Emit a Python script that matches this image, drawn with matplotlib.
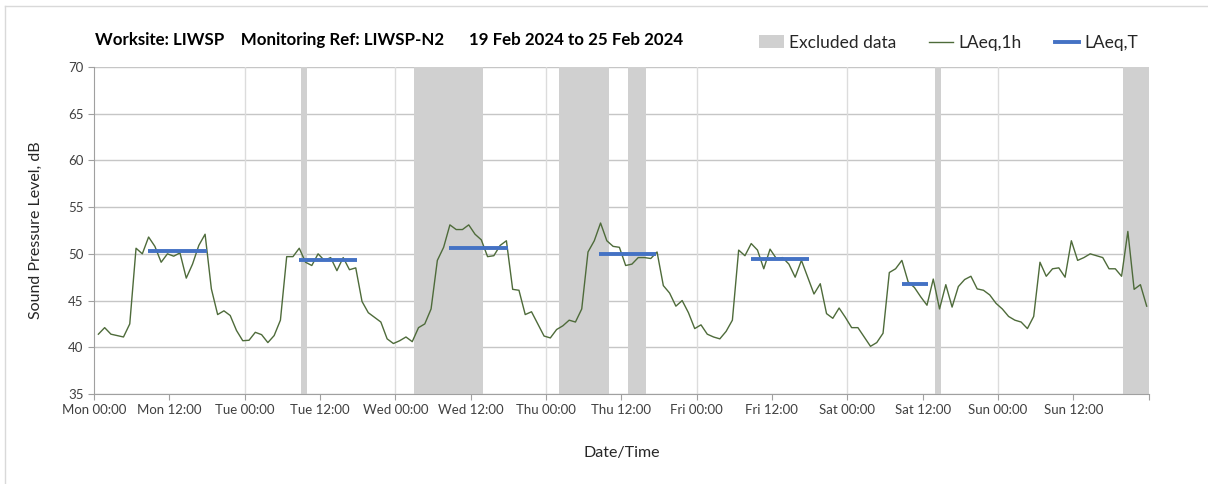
import numpy as np
import matplotlib.pyplot as plt
from matplotlib.patches import Patch
from matplotlib.lines import Line2D

plt.rcParams['font.family'] = ['Lato', 'DejaVu Sans']

# hourly LAeq,1h values, Mon 00:00 -> Sun 23:00
laeq_1h = [
    41.4, 42.1, 41.4, 41.25, 41.1, 42.5, 50.6, 50.0, 51.8, 50.8, 49.1, 50.0,
    49.75, 50.1, 47.4, 48.9, 50.9, 52.1, 46.25, 43.5, 43.9, 43.4, 41.8, 40.7,
    40.75, 41.6, 41.35, 40.5, 41.25, 42.9, 49.7, 49.7, 50.6, 49.1, 48.75, 50.0,
    49.3, 49.6, 48.2, 49.6, 48.3, 48.5, 44.9, 43.7, 43.2, 42.7, 40.9, 40.4,
    40.7, 41.1, 40.6, 42.1, 42.5, 44.1, 49.3, 50.7, 53.1, 52.6, 52.6, 53.1,
    52.1, 51.5, 49.7, 49.8, 50.9, 51.4, 46.2, 46.1, 43.5, 43.8, 42.5, 41.2,
    41.0, 41.9, 42.3, 42.9, 42.7, 44.1, 50.2, 51.4, 53.3, 51.4, 50.8, 50.7,
    48.75, 48.9, 49.6, 49.6, 49.5, 50.2, 46.6, 45.8, 44.4, 45.0, 43.7, 42.0,
    42.4, 41.4, 41.1, 40.9, 41.7, 42.9, 50.4, 49.8, 51.1, 50.4, 48.4, 50.5,
    49.5, 49.6, 48.9, 47.5, 49.3, 47.5, 45.7, 46.8, 43.6, 43.1, 44.2, 43.2,
    42.1, 42.1, 41.1, 40.1, 40.5, 41.5, 48.0, 48.4, 49.3, 47.0, 46.4, 45.4,
    44.5, 47.3, 44.1, 46.7, 44.3, 46.5, 47.25, 47.6, 46.25, 46.1, 45.6, 44.7,
    44.1, 43.3, 42.9, 42.7, 42.0, 43.3, 49.1, 47.6, 48.4, 48.5, 47.5, 51.4,
    49.3, 49.6, 50.0, 49.8, 49.6, 48.4, 48.4, 47.6, 52.4, 46.2, 46.7, 44.4,
]
hours = np.arange(len(laeq_1h)) + 0.7

# LAeq,T daytime periods (hours from Mon 00:00)
laeq_t_start = [8.6, 32.6, 56.6, 80.5, 104.6, 128.7]
laeq_t_end = [18.0, 41.9, 65.9, 89.6, 113.9, 132.8]
laeq_t = [50.3, 49.3, 50.6, 50.0, 49.4, 46.8]

# excluded periods (hours from Mon 00:00)
excl_start = [33.0, 51.0, 74.0, 85.0, 134.0, 164.0]
excl_end = [34.0, 62.0, 82.0, 88.0, 135.0, 168.0]

days = ['Mon', 'Tue', 'Wed', 'Thu', 'Fri', 'Sat', 'Sun']
tick_labels = []
for d in days:
    tick_labels += [d + ' 00:00', d + ' 12:00']
tick_labels.append('')

fig = plt.figure(figsize=(12.08, 4.84), dpi=100)
ax = fig.add_axes([0.0778, 0.186, 0.873, 0.6756])

for s, e in zip(excl_start, excl_end):
    ax.axvspan(s, e, color='#d0d0d0', lw=0, zorder=1)

for y in range(35, 71, 5):
    ax.axhline(y, color='#c6c6c6', lw=1, zorder=0)
for i in range(1, len(days) + 1):
    ax.axvline(i * 24, color='#dcdcdc', lw=1, zorder=0)

ax.plot(hours, laeq_1h, color='#4e6b3a', lw=1.0, zorder=3)
ax.hlines(laeq_t, laeq_t_start, laeq_t_end, color='#4472c4', lw=2.8, zorder=4)

ax.set_xlim(0, 168)
ax.set_ylim(35, 70)
ax.set_xticks(np.arange(0, 169, 12))
ax.set_xticklabels(tick_labels, fontsize=9.5, color='#404040')
ax.set_yticks(range(35, 71, 5))
ax.tick_params(axis='y', labelsize=9.5, colors='#404040', length=4, color='#a0a0a0')
ax.tick_params(axis='x', length=4, color='#a0a0a0', pad=3)
for sp in ['top', 'right']:
    ax.spines[sp].set_visible(False)
for sp in ['left', 'bottom']:
    ax.spines[sp].set_color('#a0a0a0')

ax.set_ylabel('Sound Pressure Level, dB', fontsize=11.5, color='#262626', labelpad=18)
ax.set_xlabel('Date/Time', fontsize=11.5, color='#262626', labelpad=22)

fig.text(0.0785, 0.917, 'Worksite: LIWSP    Monitoring Ref: LIWSP-N2      19 Feb 2024 to 25 Feb 2024',
         fontsize=12.2, fontweight='bold', color='black', va='center')

handles = [Patch(facecolor='#d0d0d0', edgecolor='none'),
           Line2D([], [], color='#4e6b3a', lw=1.0),
           Line2D([], [], color='#4472c4', lw=2.8)]
fig.legend(handles, ['Excluded data', 'LAeq,1h', 'LAeq,T'], loc='center right',
           bbox_to_anchor=(0.955, 0.912), ncol=3, frameon=False, fontsize=12.5,
           handlelength=1.4, handletextpad=0.3, columnspacing=1.9,
           labelcolor='#262626')

# chart border
fig.add_artist(Line2D([5 / 1208, 1], [1 - 6 / 484] * 2, transform=fig.transFigure, color='#d9d9d9', lw=1))
fig.add_artist(Line2D([5 / 1208] * 2, [0, 1 - 6 / 484], transform=fig.transFigure, color='#d9d9d9', lw=1))

fig.savefig('out.png', dpi=100)
